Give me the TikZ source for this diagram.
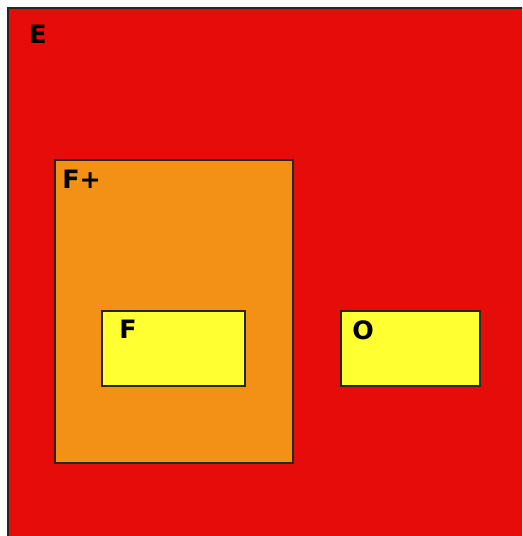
\documentclass[tikz,border=0pt]{standalone}
\usepackage{fontspec}
\setsansfont{DejaVu Sans}
\usepackage{tikz}
\usetikzlibrary{positioning}
\definecolor{setred}{RGB}{230,12,10}
\definecolor{setorange}{RGB}{242,145,22}
\definecolor{setyellow}{RGB}{255,255,50}

\tikzset{
  setbox/.style={draw=black!85, line width=0.7pt},
  setlabel/.style={anchor=north west, inner sep=0pt, font=\sffamily\bfseries\Large}
}

\begin{document}
\begin{tikzpicture}[x=0.02cm, y=-0.02cm]
  \useasboundingbox (0,0) rectangle (522,536);
  \begin{scope}
    \clip (0,0) rectangle (522,536);
    % Universe E
    \fill[setred] (8,8) rectangle (540,560);
    \draw[setbox] (540,8) -- (8,8) -- (8,560);
  \end{scope}
  \node[setlabel] (lblE) at (29,25) {E};

  % F+ region
  \fill[setorange] (55,160) rectangle (293,463);
  \draw[setbox] (55,160) rectangle (293,463);
  \node[setlabel] (lblFplus) at (62,170) {F+};

  % F region
  \fill[setyellow] (102,311) rectangle (245,386);
  \draw[setbox] (102,311) rectangle (245,386);
  \node[setlabel] (lblF) at (119,320) {F};

  % O region
  \fill[setyellow] (341,311) rectangle (480,386);
  \draw[setbox] (341,311) rectangle (480,386);
  \node[setlabel] (lblO) at (352,320) {O};
\end{tikzpicture}
\end{document}
